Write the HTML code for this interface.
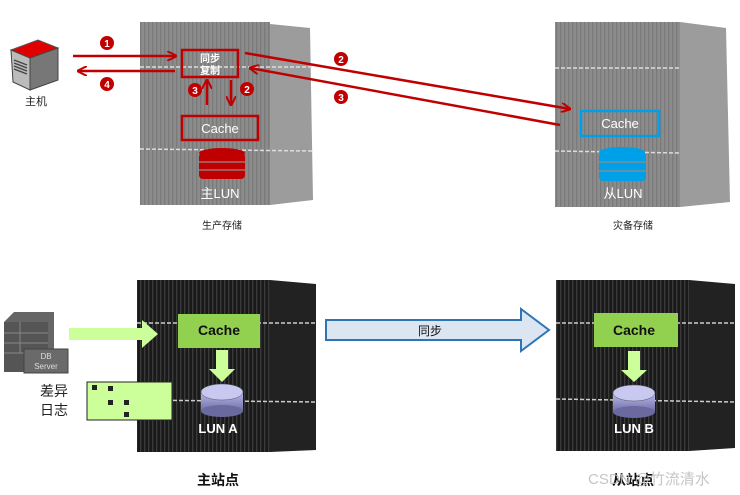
<!DOCTYPE html>
<html><head><meta charset="utf-8"><style>
html,body{margin:0;padding:0;background:#fff;}
svg{display:block;font-family:"Liberation Sans","Noto Sans CJK SC",sans-serif;}
</style></head><body>
<svg width="740" height="495" viewBox="0 0 740 495" xmlns="http://www.w3.org/2000/svg">
<defs>
<pattern id="gs" width="4" height="10" patternUnits="userSpaceOnUse"><rect width="4" height="10" fill="#8c8c8c"/><rect width="1.3" height="10" fill="#7a7a7a"/></pattern>
<pattern id="bs" width="4" height="10" patternUnits="userSpaceOnUse"><rect width="4" height="10" fill="#1a1a1a"/><rect width="1.3" height="10" fill="#3a3a3a"/></pattern>
<marker id="ar" markerWidth="10" markerHeight="10" refX="9" refY="5" orient="auto" markerUnits="userSpaceOnUse"><path d="M0,0 L10,5 L0,10" fill="none" stroke="#c00000" stroke-width="2"/></marker>
<linearGradient id="disk" x1="0" x2="0" y1="0" y2="1"><stop offset="0" stop-color="#b8b8e8"/><stop offset="1" stop-color="#7070a8"/></linearGradient>
</defs>

<!-- Top-left cabinet -->
<polygon points="270,24 310,28 313,200 270,205" fill="#9c9c9c"/>
<rect x="140" y="22" width="130" height="183" fill="url(#gs)"/>
<line x1="140" y1="67" x2="312" y2="67" stroke="#ddd" stroke-width="1.5" stroke-dasharray="4,2"/>
<line x1="140" y1="149" x2="312" y2="151" stroke="#ddd" stroke-width="1.5" stroke-dasharray="4,2"/>
<!-- Top-right cabinet -->
<polygon points="680,22 726,28 730,202 680,207" fill="#9c9c9c"/>
<rect x="555" y="22" width="125" height="185" fill="url(#gs)"/>
<line x1="555" y1="68" x2="680" y2="68" stroke="#ddd" stroke-width="1.5" stroke-dasharray="4,2"/>
<line x1="555" y1="151" x2="680" y2="153" stroke="#ddd" stroke-width="1.5" stroke-dasharray="4,2"/>

<!-- Host -->
<polygon points="11,50 38,40 58,48 30,58" fill="#e00000" stroke="#555"/>
<polygon points="11,50 30,58 30,90 13,82" fill="#bbb" stroke="#444"/>
<polygon points="30,58 58,48 58,80 30,90" fill="#777" stroke="#444"/>
<g stroke="#444" stroke-width="1.3"><line x1="14" y1="60" x2="27" y2="65"/><line x1="14" y1="63" x2="27" y2="68"/><line x1="14" y1="66" x2="27" y2="71"/><line x1="14" y1="69" x2="27" y2="74"/></g>
<text x="36" y="105" font-size="11" text-anchor="middle" fill="#222">主机</text>

<!-- Red arrows -->
<g stroke="#c00000" stroke-width="2.5" fill="none">
<line x1="73" y1="56" x2="176" y2="56" marker-end="url(#ar)"/>
<line x1="175" y1="71" x2="78" y2="71" marker-end="url(#ar)"/>
<line x1="207" y1="105" x2="207" y2="80" marker-end="url(#ar)"/>
<line x1="231" y1="80" x2="231" y2="105" marker-end="url(#ar)"/>
<line x1="245" y1="53" x2="570" y2="109" marker-end="url(#ar)"/>
<line x1="560" y1="125" x2="250" y2="68" marker-end="url(#ar)"/>
<rect x="182" y="50" width="56" height="27"/>
<rect x="182" y="116" width="76" height="24"/>
</g>
<text x="210" y="62" font-size="10" fill="#fff" text-anchor="middle" font-weight="bold">同步</text>
<text x="210" y="74" font-size="10" fill="#fff" text-anchor="middle" font-weight="bold">复制</text>
<text x="220" y="133" font-size="13" fill="#fff" text-anchor="middle">Cache</text>
<g font-size="10" font-weight="bold" fill="#fff" text-anchor="middle">
<circle cx="107" cy="43" r="7" fill="#c00000"/><text x="107" y="47">1</text>
<circle cx="107" cy="84" r="7" fill="#c00000"/><text x="107" y="88">4</text>
<circle cx="195" cy="90" r="7" fill="#c00000"/><text x="195" y="94">3</text>
<circle cx="247" cy="89" r="7" fill="#c00000"/><text x="247" y="93">2</text>
<circle cx="341" cy="59" r="7" fill="#c00000"/><text x="341" y="63">2</text>
<circle cx="341" cy="97" r="7" fill="#c00000"/><text x="341" y="101">3</text>
</g>
<!-- Red cylinder -->
<g fill="#c00000">
<rect x="199" y="153" width="46" height="26" rx="4"/>
<ellipse cx="222" cy="153" rx="23" ry="5"/>
</g>
<g stroke="#8c8c8c" stroke-width="1.2"><line x1="199" y1="162" x2="245" y2="162"/><line x1="199" y1="170" x2="245" y2="170"/></g>
<text x="220" y="198" font-size="13" fill="#fff" text-anchor="middle">主LUN</text>
<text x="222" y="229" font-size="10" fill="#222" text-anchor="middle">生产存储</text>

<!-- Right top -->
<rect x="581" y="111" width="78" height="25" fill="none" stroke="#00a0e8" stroke-width="2.5"/>
<text x="620" y="128" font-size="13" fill="#fff" text-anchor="middle">Cache</text>
<g fill="#00a0e8">
<rect x="599" y="152" width="47" height="29" rx="4"/>
<ellipse cx="622" cy="152" rx="23" ry="5"/>
</g>
<g stroke="#8c8c8c" stroke-width="1.2"><line x1="599" y1="162" x2="646" y2="162"/><line x1="599" y1="171" x2="646" y2="171"/></g>
<text x="623" y="198" font-size="13" fill="#fff" text-anchor="middle">从LUN</text>
<text x="633" y="229" font-size="10" fill="#222" text-anchor="middle">灾备存储</text>

<!-- Bottom-left cabinet -->
<polygon points="270,280 316,284 316,450 270,452" fill="#222"/>
<rect x="137" y="280" width="133" height="172" fill="url(#bs)"/>
<line x1="137" y1="323" x2="316" y2="323" stroke="#ccc" stroke-width="1.5" stroke-dasharray="4,2"/>
<line x1="137" y1="400" x2="316" y2="402" stroke="#ccc" stroke-width="1.5" stroke-dasharray="4,2"/>
<!-- Bottom-right cabinet -->
<polygon points="689,280 735,284 735,448 689,451" fill="#222"/>
<rect x="556" y="280" width="133" height="171" fill="url(#bs)"/>
<line x1="556" y1="323" x2="735" y2="323" stroke="#ccc" stroke-width="1.5" stroke-dasharray="4,2"/>
<line x1="556" y1="399" x2="735" y2="402" stroke="#ccc" stroke-width="1.5" stroke-dasharray="4,2"/>

<!-- DB Server -->
<polygon points="4,322 14,312 54,312 54,360 4,372" fill="#666"/>
<rect x="4" y="322" width="44" height="50" fill="#555"/>
<g stroke="#888" stroke-width="1"><line x1="4" y1="333" x2="48" y2="333"/><line x1="4" y1="343" x2="48" y2="343"/><line x1="4" y1="353" x2="48" y2="353"/><line x1="20" y1="322" x2="20" y2="353"/></g>
<rect x="24" y="349" width="44" height="24" fill="#6a6a6a" stroke="#444"/>
<text x="46" y="359" font-size="8" fill="#ddd" text-anchor="middle">DB</text>
<text x="46" y="369" font-size="8" fill="#ddd" text-anchor="middle">Server</text>
<!-- green arrow -->
<polygon points="69,328 142,328 142,320 158,334 142,348 142,340 69,340" fill="#ccff99"/>
<!-- diff log -->
<text x="54" y="396" font-size="14" fill="#222" text-anchor="middle">差异</text>
<text x="54" y="415" font-size="14" fill="#222" text-anchor="middle">日志</text>
<rect x="87" y="382" width="85" height="38" fill="#ccff99" stroke="#222" stroke-width="1"/>
<g fill="#222"><rect x="92" y="385" width="5" height="5"/><rect x="108" y="386" width="5" height="5"/><rect x="108" y="400" width="5" height="5"/><rect x="124" y="400" width="5" height="5"/><rect x="124" y="412" width="5" height="5"/></g>

<!-- cache A -->
<rect x="178" y="314" width="82" height="34" fill="#92d050"/>
<text x="219" y="335" font-size="14" font-weight="bold" fill="#111" text-anchor="middle">Cache</text>
<polygon points="216,350 228,350 228,369 235,369 222,382 209,369 216,369" fill="#ccff99"/>
<rect x="201" y="392" width="42" height="19" fill="url(#disk)"/>
<ellipse cx="222" cy="411" rx="21" ry="6" fill="#6a6aa0"/>
<ellipse cx="222" cy="392" rx="21" ry="8" fill="#c8c8f0" stroke="#556" stroke-width="0.5"/>
<text x="218" y="433" font-size="13" font-weight="bold" fill="#fff" text-anchor="middle">LUN A</text>
<text x="218" y="485" font-size="14" font-weight="bold" fill="#111" text-anchor="middle">主站点</text>

<!-- sync arrow -->
<polygon points="326,320 521,320 521,309 549,330 521,351 521,340 326,340" fill="#dce6f2" stroke="#2e75b6" stroke-width="2"/>
<text x="430" y="335" font-size="12" fill="#111" text-anchor="middle">同步</text>

<!-- cache B -->
<rect x="594" y="313" width="84" height="34" fill="#92d050"/>
<text x="634" y="335" font-size="14" font-weight="bold" fill="#111" text-anchor="middle">Cache</text>
<polygon points="628,351 640,351 640,370 647,370 634,382 621,370 628,370" fill="#ccff99"/>
<rect x="613" y="393" width="42" height="19" fill="url(#disk)"/>
<ellipse cx="634" cy="412" rx="21" ry="6" fill="#6a6aa0"/>
<ellipse cx="634" cy="393" rx="21" ry="8" fill="#c8c8f0" stroke="#556" stroke-width="0.5"/>
<text x="634" y="433" font-size="13" font-weight="bold" fill="#fff" text-anchor="middle">LUN B</text>
<text x="633" y="485" font-size="14" font-weight="bold" fill="#111" text-anchor="middle">从站点</text>
<text x="588" y="484" font-size="15" fill="#bbb" fill-opacity="0.85">CSDN @竹流清水</text>
</svg>
</body></html>
